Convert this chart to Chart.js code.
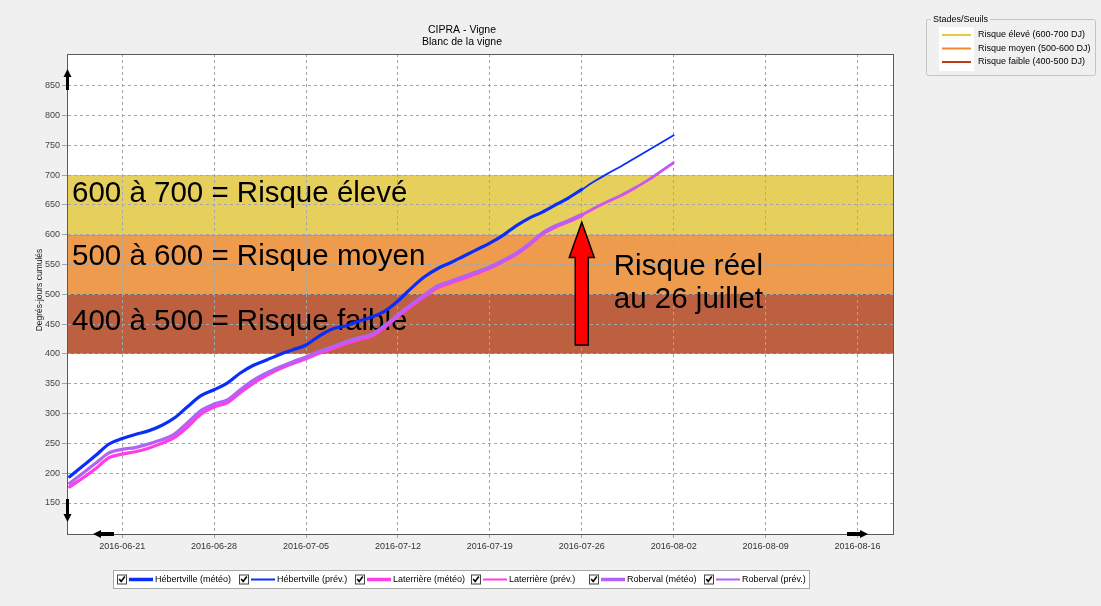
<!DOCTYPE html>
<html><head><meta charset="utf-8">
<script src="https://cdn.jsdelivr.net/npm/chart.js@4.4.0/dist/chart.umd.min.js"></script>
<style>html,body{margin:0;padding:0;background:#F0F0F0;overflow:hidden}</style>
</head><body>
<canvas id="c" width="1101" height="606" style="width:1101px;height:606px;display:block"></canvas>
<script>
// ---- data (x = days since 2016-06-21) ----
const meteoDays = [-4,-3,-2,-1,0,1,2,3,4,5,6,7,8,9,10,11,12,13,14,15,16,17,18,19,20,21,22,23,24,25,26,27,28,29,30,31,32,33,34,35];
const prevDays = [35,36,37,38,39,40,41,42];
const hebertvilleMeteo = [194,212,230,249,258,265,271,280,293,312,330,340,351,368,381,390,399,407,415,430,442,447,455,462,472,489,510,529,543,553,564,575,586,599,615,628,638,650,662,676];
const hebertvillePrev = [676,690,703,715,728,741,754,767];
const laterriereMeteo = [177,192,208,226,232,236,242,250,260,278,299,311,318,335,351,364,375,384,392,401,409,417,424,430,445,463,480,496,511,519,527,535,544,555,567,583,601,613,622,632];
const laterrierePrev = [632,644,655,665,677,690,705,720];
const robervalMeteo = [183,200,217,234,240,243,249,256,266,285,305,316,323,340,356,368,378,387,395,404,412,420,427,433,448,466,483,499,514,522,530,538,546,557,569,585,603,615,624,634];
const robervalPrev = [634,646,657,667,679,692,707,722];
const seriesLabels = ['Hébertville (météo)','Hébertville (prév.)','Laterrière (météo)','Laterrière (prév.)','Roberval (météo)','Roberval (prév.)'];
const xTickDays = [0,7,14,21,28,35,42,49,56];
const xTickLabels = ['2016-06-21','2016-06-28','2016-07-05','2016-07-12','2016-07-19','2016-07-26','2016-08-02','2016-08-09','2016-08-16'];
const yTickValues = [150,200,250,300,350,400,450,500,550,600,650,700,750,800,850];
const bandRanges = [[600,700],[500,600],[400,500]];
const bandTexts = ['600 à 700 = Risque élevé','500 à 600 = Risque moyen','400 à 500 = Risque faible'];
const bandTextValues = [655,549,440];
const thresholdLabels = ['Risque élevé (600-700 DJ)','Risque moyen (500-600 DJ)','Risque faible (400-500 DJ)'];
const arrowDay = 35, arrowFrom = 415, arrowTo = 621, arrowHeadBase = 562;
const noteLines = ['Risque réel','au 26 juillet'];
const noteDay = 37.44, noteValues = [532,477];

const FONT = '"Liberation Sans", Arial, sans-serif';
const C_HEB = '#0A2EF8', C_LAT = '#FF3CE6', C_ROB = '#B262F4';
const bandColors = ['#E6CF5A','#EE9B4E','#BD6040'];
const bandLineColors = ['#E9C84A','#E88A38','#B85030'];
const legendLineColors = ['#E8C83C','#F08A30','#C03A14'];

function pts(xs, ys){ return xs.map((x,i)=>({x:x,y:ys[i]})); }

const colors = [C_HEB,C_HEB,C_LAT,C_LAT,C_ROB,C_ROB];
const widths = [3.2,1.8,3.2,1.8,3.2,1.8];
const dataSets = [[meteoDays,hebertvilleMeteo],[prevDays,hebertvillePrev],[meteoDays,laterriereMeteo],[prevDays,laterrierePrev],[meteoDays,robervalMeteo],[prevDays,robervalPrev]];
const orders = [0,0,2,2,1,1];

function arrowShape(ctx,x1,y1,x2,y2,shaft,headLen,headHalf){
  const dx=x2-x1, dy=y2-y1, L=Math.hypot(dx,dy), ux=dx/L, uy=dy/L, nx=-uy, ny=ux;
  const bx=x2-ux*headLen, by=y2-uy*headLen;
  ctx.beginPath();
  ctx.moveTo(x1+nx*shaft/2,y1+ny*shaft/2);
  ctx.lineTo(bx+nx*shaft/2,by+ny*shaft/2);
  ctx.lineTo(bx+nx*headHalf,by+ny*headHalf);
  ctx.lineTo(x2,y2);
  ctx.lineTo(bx-nx*headHalf,by-ny*headHalf);
  ctx.lineTo(bx-nx*shaft/2,by-ny*shaft/2);
  ctx.lineTo(x1-nx*shaft/2,y1-ny*shaft/2);
  ctx.closePath();
}

const deco = {
  id:'deco',
  beforeDraw(chart){
    const ctx=chart.ctx, a=chart.chartArea, y=chart.scales.y;
    ctx.save();
    ctx.fillStyle='#F0F0F0'; ctx.fillRect(0,0,chart.width,chart.height);
    ctx.fillStyle='#FFFFFF'; ctx.fillRect(a.left,a.top,a.right-a.left,a.bottom-a.top);
    bandRanges.forEach((r,i)=>{
      const yt=y.getPixelForValue(r[1]), yb=y.getPixelForValue(r[0]);
      ctx.fillStyle=bandColors[i]; ctx.fillRect(a.left,yt,a.right-a.left,yb-yt);
      ctx.strokeStyle=bandLineColors[i]; ctx.lineWidth=1;
      ctx.beginPath(); ctx.moveTo(a.left,Math.round(yt)+0.5); ctx.lineTo(a.right,Math.round(yt)+0.5); ctx.stroke();
    });
    ctx.restore();
  },
  beforeDatasetsDraw(chart){
    const ctx=chart.ctx, a=chart.chartArea, y=chart.scales.y;
    ctx.save();
    ctx.fillStyle='#000'; ctx.font='29.5px '+FONT; ctx.textBaseline='alphabetic'; ctx.textAlign='left';
    bandTexts.forEach((t,i)=>ctx.fillText(t,a.left+5,y.getPixelForValue(bandTextValues[i])));
    ctx.restore();
  },
  afterDatasetsDraw(chart){
    const ctx=chart.ctx, x=chart.scales.x, y=chart.scales.y;
    ctx.save();
    const ax=x.getPixelForValue(arrowDay);
    const y1=y.getPixelForValue(arrowFrom), y2=y.getPixelForValue(arrowTo), yh=y.getPixelForValue(arrowHeadBase);
    arrowShape(ctx,ax,y1,ax,y2,13,yh-y2,12.5);
    ctx.fillStyle='#FF0000'; ctx.fill();
    ctx.strokeStyle='#000'; ctx.lineWidth=1.5; ctx.lineJoin='miter'; ctx.stroke();
    ctx.fillStyle='#000'; ctx.font='29.5px '+FONT; ctx.textAlign='left'; ctx.textBaseline='alphabetic';
    noteLines.forEach((t,i)=>ctx.fillText(t,x.getPixelForValue(noteDay),y.getPixelForValue(noteValues[i])));
    ctx.restore();
  },
  afterDraw(chart){
    const ctx=chart.ctx, a=chart.chartArea;
    ctx.save();
    ctx.strokeStyle='#5A5A5A'; ctx.lineWidth=1;
    ctx.strokeRect(Math.round(a.left)+0.5,Math.round(a.top)+0.5,Math.round(a.right-a.left),Math.round(a.bottom-a.top));
    ctx.fillStyle='#000';
    const L=Math.round(a.left)+0.5, B=Math.round(a.bottom);
    arrowShape(ctx,L,a.top+36,L,a.top+15,3,8,4); ctx.fill();
    arrowShape(ctx,L,a.bottom-35,L,a.bottom-12,3,8,4); ctx.fill();
    arrowShape(ctx,a.left+47,B,a.left+26,B,4,8,4); ctx.fill();
    arrowShape(ctx,a.right-46,B,a.right-25,B,4,8,4); ctx.fill();
    ctx.fillStyle='#000'; ctx.textAlign='center'; ctx.textBaseline='middle';
    ctx.font='10.5px '+FONT;
    ctx.fillText('CIPRA - Vigne',462,30);
    ctx.fillText('Blanc de la vigne',462,42);
    ctx.save(); ctx.translate(40,290); ctx.rotate(-Math.PI/2);
    ctx.font='8.5px '+FONT; ctx.fillStyle='#222'; ctx.fillText('Degrés-jours cumulés',0,0);
    ctx.restore();
    ctx.strokeStyle='#C4C4C4'; ctx.lineWidth=1;
    ctx.beginPath(); ctx.roundRect(926.5,19.5,169,56,2); ctx.stroke();
    ctx.font='9px '+FONT; ctx.textAlign='left'; ctx.textBaseline='middle';
    const tw=ctx.measureText('Stades/Seuils').width;
    ctx.fillStyle='#F0F0F0'; ctx.fillRect(931,14,tw+4,11);
    ctx.fillStyle='#000'; ctx.fillText('Stades/Seuils',933,20);
    ctx.fillStyle='#FFFFFF'; ctx.fillRect(939,27,35,44);
    thresholdLabels.forEach((t,i)=>{
      const yy=35+i*13.5;
      ctx.strokeStyle=legendLineColors[i]; ctx.lineWidth=2;
      ctx.beginPath(); ctx.moveTo(942,yy); ctx.lineTo(971,yy); ctx.stroke();
      ctx.fillStyle='#000'; ctx.fillText(t,978,yy);
    });
    ctx.fillStyle='#FFFFFF'; ctx.fillRect(113,570,696,18);
    ctx.strokeStyle='#A8A8A8'; ctx.lineWidth=1; ctx.strokeRect(113.5,570.5,696,18);
    const cy=579.5;
    const cbX=[117,239,355,471,589,704];
    seriesLabels.forEach((t,i)=>{
      const cx=cbX[i];
      ctx.fillStyle='#FFF'; ctx.fillRect(cx,cy-5,10,10);
      ctx.strokeStyle='#444'; ctx.lineWidth=1; ctx.strokeRect(cx+0.5,cy-4.5,9,9);
      ctx.strokeStyle='#000'; ctx.lineWidth=1.6;
      ctx.beginPath(); ctx.moveTo(cx+2.2,cy-0.5); ctx.lineTo(cx+4.2,cy+2); ctx.lineTo(cx+7.8,cy-3); ctx.stroke();
      ctx.strokeStyle=colors[i]; ctx.lineWidth=widths[i]>3?3.5:2;
      ctx.beginPath(); ctx.moveTo(cx+12,cy); ctx.lineTo(cx+36,cy); ctx.stroke();
      ctx.fillStyle='#000'; ctx.font='9px '+FONT; ctx.textBaseline='middle'; ctx.textAlign='left';
      ctx.fillText(t,cx+38,cy);
    });
    ctx.restore();
  }
};

new Chart(document.getElementById('c'),{
  type:'line',
  data:{datasets:dataSets.map((d,i)=>({
    label:seriesLabels[i], data:pts(d[0],d[1]), borderColor:colors[i], backgroundColor:colors[i],
    borderWidth:widths[i], pointRadius:0, fill:false, cubicInterpolationMode:'monotone', order:orders[i],
    borderCapStyle:'round', borderJoinStyle:'round'
  }))},
  options:{
    responsive:false, animation:false, devicePixelRatio:1,
    layout:{padding:{left:0,right:208,top:54,bottom:0}},
    plugins:{legend:{display:false},title:{display:false},tooltip:{enabled:false}},
    scales:{
      x:{type:'linear',min:-4.2,max:58.7,
        afterBuildTicks:s=>{s.ticks=xTickDays.map(v=>({value:v}));},
        afterFit:s=>{s.height=72;},
        ticks:{autoSkip:false,maxRotation:0,padding:3,color:'#333',font:{size:9,family:FONT},
          callback:(v)=>{const k=xTickDays.indexOf(v);return k>=0?xTickLabels[k]:'';}},
        grid:{color:'#A5A5A5',lineWidth:1,tickLength:4,drawTicks:true},
        border:{display:true,color:'#5A5A5A',width:1,dash:[3,3]}
      },
      y:{type:'linear',min:98,max:903.2,
        afterBuildTicks:s=>{s.ticks=yTickValues.map(v=>({value:v}));},
        afterFit:s=>{s.width=67;},
        ticks:{padding:2,color:'#444',font:{size:9,family:FONT}},
        grid:{color:'#A5A5A5',lineWidth:1,tickLength:5,drawTicks:true},
        border:{display:true,color:'#5A5A5A',width:1,dash:[3,3]}
      }
    }
  },
  plugins:[deco]
});
</script>
</body></html>
